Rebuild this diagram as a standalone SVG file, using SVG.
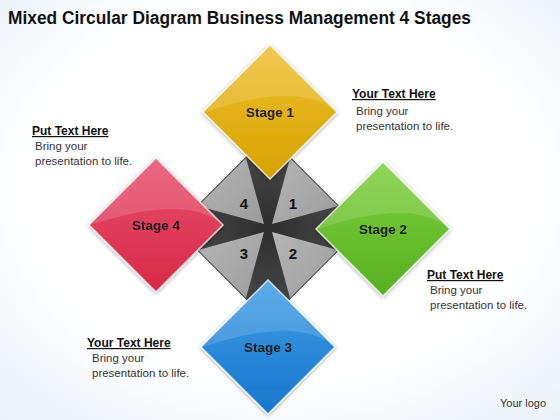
<svg xmlns="http://www.w3.org/2000/svg" width="560" height="420" viewBox="0 0 560 420">
  <defs>
    <radialGradient id="bg" cx="50%" cy="45%" r="75%">
      <stop offset="0.6" stop-color="#ffffff"/>
      <stop offset="1" stop-color="#e9f1f8"/>
    </radialGradient>
    <linearGradient id="gy" x1="0" y1="0" x2="0" y2="1">
      <stop offset="0" stop-color="#efc030"/>
      <stop offset="1" stop-color="#d6a200"/>
    </linearGradient>
    <linearGradient id="gr" x1="0" y1="0" x2="0" y2="1">
      <stop offset="0" stop-color="#e8506c"/>
      <stop offset="1" stop-color="#d62a48"/>
    </linearGradient>
    <linearGradient id="gg" x1="0" y1="0" x2="0" y2="1">
      <stop offset="0" stop-color="#7ed03c"/>
      <stop offset="1" stop-color="#56b022"/>
    </linearGradient>
    <linearGradient id="gb" x1="0" y1="0" x2="0" y2="1">
      <stop offset="0" stop-color="#429ee6"/>
      <stop offset="1" stop-color="#1676cc"/>
    </linearGradient>
    <linearGradient id="light" x1="0" y1="0" x2="1" y2="1">
      <stop offset="0" stop-color="#b6b6b6"/>
      <stop offset="1" stop-color="#9c9c9c"/>
    </linearGradient>
    <radialGradient id="dark" cx="50%" cy="50%" r="50%">
      <stop offset="0" stop-color="#2e2e2e"/>
      <stop offset="1" stop-color="#4c4c4c"/>
    </radialGradient>
    <filter id="sh" x="-20%" y="-20%" width="140%" height="140%">
      <feGaussianBlur in="SourceAlpha" stdDeviation="2"/>
      <feOffset dx="0" dy="1" result="b"/>
      <feComponentTransfer><feFuncA type="linear" slope="0.35"/></feComponentTransfer>
      <feMerge><feMergeNode/><feMergeNode in="SourceGraphic"/></feMerge>
    </filter>
  </defs>
  <style>
    .title{font-family:"Liberation Sans",Arial,sans-serif;font-weight:bold;font-size:18px;fill:#111}
    .stage{font-family:"Liberation Sans",Arial,sans-serif;font-weight:bold;font-size:13.5px;fill:#1c1c1c;text-anchor:middle}
    .num{font-family:"Liberation Sans",Arial,sans-serif;font-weight:bold;font-size:15px;fill:#111;text-anchor:middle}
    .head{font-family:"Liberation Sans",Arial,sans-serif;font-weight:bold;font-size:12px;fill:#111;text-decoration:underline}
    .body{font-family:"Liberation Sans",Arial,sans-serif;font-size:11.5px;fill:#333}
    .logo{font-family:"Liberation Sans",Arial,sans-serif;font-size:11px;fill:#333}
    .dia{stroke:#ffffff;stroke-opacity:0.75;stroke-width:1.5;stroke-linejoin:miter}
    .gloss{fill:#ffffff;fill-opacity:0.14}
  </style>

  <rect width="560" height="420" fill="url(#bg)"/>

  <text class="title" x="8" y="24" textLength="463" lengthAdjust="spacingAndGlyphs">Mixed Circular Diagram Business Management 4 Stages</text>

  <g id="connectors"/>

  <g id="center">
    <polygon points="268,136 360,228 268,320 176,228" fill="url(#dark)" stroke="#4a4a4a" stroke-width="2"/>
    <polygon points="272,224 290,158 338,206" fill="url(#light)"/>
    <polygon points="264,224 246,158 198,206" fill="url(#light)"/>
    <polygon points="272,232 338,250 290,298" fill="url(#light)"/>
    <polygon points="264,232 198,250 246,298" fill="url(#light)"/>
    <text class="num" x="244" y="209">4</text>
    <text class="num" x="293" y="209">1</text>
    <text class="num" x="244" y="259">3</text>
    <text class="num" x="293" y="259">2</text>
  </g>

  <g id="stage1" filter="url(#sh)">
    <polygon class="dia" points="270,45 337,112 270,179 203,112" fill="url(#gy)"/>
    <path class="gloss" d="M270,45 L337,112 Q300,80 205,112 Z"/>
    <text class="stage" x="270" y="117">Stage 1</text>
  </g>

  <g id="stage4" filter="url(#sh)">
    <polygon class="dia" points="156,158 223,225 156,292 89,225" fill="url(#gr)"/>
    <path class="gloss" d="M156,158 L223,225 Q186,193 91,225 Z"/>
    <text class="stage" x="156" y="230">Stage 4</text>
  </g>

  <g id="stage2" filter="url(#sh)">
    <polygon class="dia" points="383,162 450,229 383,296 316,229" fill="url(#gg)"/>
    <path class="gloss" d="M383,162 L450,229 Q413,197 318,229 Z"/>
    <text class="stage" x="383" y="234">Stage 2</text>
  </g>

  <g id="stage3" filter="url(#sh)">
    <polygon class="dia" points="268,280 335,347 268,414 201,347" fill="url(#gb)"/>
    <path class="gloss" d="M268,280 L335,347 Q298,315 203,347 Z"/>
    <text class="stage" x="268" y="352">Stage 3</text>
  </g>

  <g id="note1">
    <text class="head" x="352" y="98">Your Text Here</text>
    <text class="body" x="356" y="115">Bring your</text>
    <text class="body" x="356" y="130">presentation to life.</text>
  </g>

  <g id="note4">
    <text class="head" x="32" y="135">Put Text Here</text>
    <text class="body" x="35" y="150">Bring your</text>
    <text class="body" x="35" y="165">presentation to life.</text>
  </g>

  <g id="note2">
    <text class="head" x="427" y="279">Put Text Here</text>
    <text class="body" x="430" y="294">Bring your</text>
    <text class="body" x="430" y="309">presentation to life.</text>
  </g>

  <g id="note3">
    <text class="head" x="87" y="347">Your Text Here</text>
    <text class="body" x="92" y="362">Bring your</text>
    <text class="body" x="92" y="377">presentation to life.</text>
  </g>

  <text class="logo" x="500" y="407">Your logo</text>
</svg>
